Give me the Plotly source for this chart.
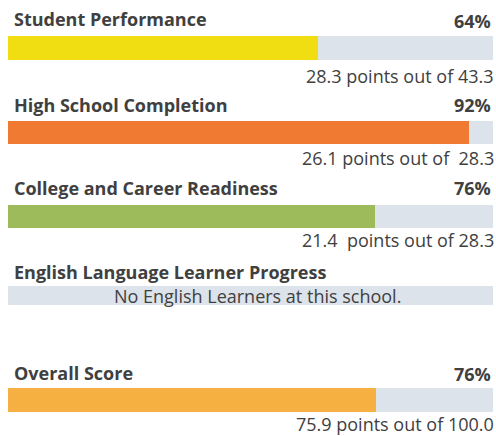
import plotly.graph_objects as go

# ---- data ----
categories = ["Student Performance", "High School Completion",
              "College and Career Readiness", "Overall Score"]
pct_labels = ["64%", "92%", "76%", "76%"]
bar_fill = [0.64, 0.95, 0.757, 0.759]          # filled share of each bar
points_text = ["28.3 points out of 43.3", "26.1 points out of\u00a0\u00a028.3",
               "21.4\u00a0\u00a0points out of 28.3", "75.9 points out of 100.0"]
ell_title = "English Language Learner Progress"
ell_note = "No English Learners at this school."

# ---- layout (pixel positions, top-down) ----
W, H = 496, 436
bar_center = [48, 132.5, 216.5, 400]
bar_height = [24, 23, 23, 24]
title_y = [18.5, 104.5, 188, 373]
pct_y = [21, 105, 188, 374]
sub_y = [76, 158, 240, 424]
ell_center, ell_height, ell_title_y = 295.5, 19, 272

colors = ["#f0de12", "#f07a31", "#9dbb5a", "#f6b042"]
track = "#dce3ea"
txt = "#404040"
FONT = "Open Sans"
FS = 18

fig = go.Figure()
# background tracks
fig.add_trace(go.Bar(x=[1] * 4 + [1], y=bar_center + [ell_center],
                     width=bar_height + [ell_height], orientation="h",
                     marker=dict(color=track, line=dict(width=0)),
                     hoverinfo="skip", showlegend=False))
# filled bars
fig.add_trace(go.Bar(x=bar_fill, y=bar_center, width=bar_height, orientation="h",
                     marker=dict(color=colors, line=dict(width=0)),
                     hoverinfo="skip", showlegend=False))

ann = []
for i, name in enumerate(categories):
    ann.append(dict(text=f"<b>{name}</b>", x=12 / W, xref="paper", xanchor="left",
                    y=title_y[i], yref="y", yanchor="middle", showarrow=False,
                    font=dict(family=FONT, size=FS, color=txt)))
    ann.append(dict(text=f"<b>{pct_labels[i]}</b>", x=493 / W, xref="paper", xanchor="right",
                    y=pct_y[i], yref="y", yanchor="middle", showarrow=False,
                    font=dict(family=FONT, size=FS, color=txt)))
    ann.append(dict(text=points_text[i], x=495 / W, xref="paper", xanchor="right",
                    y=sub_y[i], yref="y", yanchor="middle", showarrow=False,
                    font=dict(family=FONT, size=FS, color=txt), borderpad=0))
ann.append(dict(text=f"<b>{ell_title}</b>", x=12 / W, xref="paper", xanchor="left",
                y=ell_title_y, yref="y", yanchor="middle", showarrow=False,
                font=dict(family=FONT, size=FS, color=txt)))
ann.append(dict(text=ell_note, x=257 / W, xref="paper", xanchor="center",
                y=ell_center, yref="y", yanchor="middle", showarrow=False,
                font=dict(family=FONT, size=FS, color=txt)))

fig.update_layout(
    width=W, height=H, margin=dict(l=0, r=0, t=0, b=0),
    paper_bgcolor="white", plot_bgcolor="white",
    barmode="overlay", bargap=0,
    xaxis=dict(range=[0, 1], domain=[8 / W, 493 / W], visible=False, fixedrange=True),
    yaxis=dict(range=[H, 0], visible=False, fixedrange=True),
    annotations=ann,
)
fig.write_html("out.html", config={"displayModeBar": False})

# remove the browser's default page margin so the figure sits at the window origin
with open("out.html", encoding="utf-8") as f:
    html = f.read()
html = html.replace("<head>", "<head><style>html,body{margin:0;padding:0;overflow:hidden;}</style>", 1)
with open("out.html", "w", encoding="utf-8") as f:
    f.write(html)
